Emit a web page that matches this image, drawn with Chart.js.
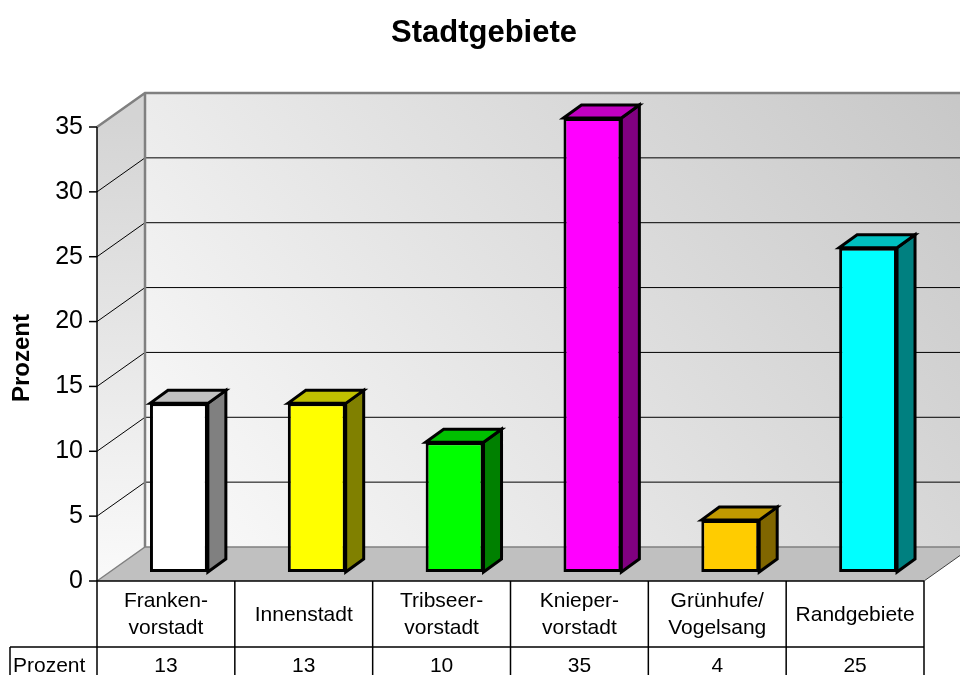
<!DOCTYPE html>
<html>
<head>
<meta charset="utf-8">
<script src="https://cdn.jsdelivr.net/npm/chart.js@4/dist/chart.umd.min.js"></script>
<style>
  body { margin: 0; background: #fff; }
  canvas { display: block; }
</style>
</head>
<body>
<canvas id="myChart" width="960" height="675"></canvas>
<script>
// data
var categories = [['Franken-', 'vorstadt'], 'Innenstadt', ['Tribseer-', 'vorstadt'], ['Knieper-', 'vorstadt'], ['Grünhufe/', 'Vogelsang'], 'Randgebiete'];
var prozent = [13, 13, 10, 35, 4, 25];
var yTicks = [0, 5, 10, 15, 20, 25, 30, 35];
var seriesName = 'Prozent';

// colours per bar: front, side, top
var frontColors = ['#ffffff', '#ffff00', '#00ff00', '#ff00ff', '#ffcc00', '#00ffff'];
var sideColors = ['#808080', '#808000', '#008000', '#800080', '#806600', '#008080'];
var topColors = ['#c0c0c0', '#c0c000', '#00c000', '#c000c0', '#c09900', '#00c0c0'];

var FONT = '"Liberation Sans", Arial, sans-serif';
// offsets from the bar plane
var FX = -13, FY = 9;    // front plane
var BX = 35, BY = -25;   // back wall
var DX = 18, DY = -13;   // bar depth

var scene = {
  id: 'scene',
  beforeDatasetsDraw: function (chart) {
    var c = chart.ctx, x = chart.scales.x, y = chart.scales.y;
    var L = x.left, R = x.right;
    var y0 = y.getPixelForValue(0), yTop = y.getPixelForValue(35);
    c.save();

    // back wall
    var g = c.createLinearGradient(L + BX, y0 + BY, R + BX, yTop + BY - 200);
    g.addColorStop(0, '#fbfbfb');
    g.addColorStop(1, '#c0c0c0');
    c.fillStyle = g;
    c.fillRect(L + BX, yTop + BY, R - L + 10, y0 - yTop);

    // left wall
    var g2 = c.createLinearGradient(0, yTop, 0, y0 + FY);
    g2.addColorStop(0, '#d4d4d4');
    g2.addColorStop(1, '#fafafa');
    c.fillStyle = g2;
    c.beginPath();
    c.moveTo(L + FX, y0 + FY);
    c.lineTo(L + FX, yTop + FY);
    c.lineTo(L + BX, yTop + BY);
    c.lineTo(L + BX, y0 + BY);
    c.closePath();
    c.fill();

    // floor
    c.fillStyle = '#c0c0c0';
    c.beginPath();
    c.moveTo(L + FX, y0 + FY);
    c.lineTo(R + FX, y0 + FY);
    c.lineTo(R + BX, y0 + BY);
    c.lineTo(L + BX, y0 + BY);
    c.closePath();
    c.fill();
    c.strokeStyle = '#404040';
    c.lineWidth = 1;
    c.beginPath();
    c.moveTo(R + FX, y0 + FY);
    c.lineTo(R + BX, y0 + BY);
    c.stroke();

    // gridlines
    c.strokeStyle = '#000';
    c.lineWidth = 1;
    yTicks.forEach(function (v) {
      if (v === 0 || v === 35) return;
      var p = y.getPixelForValue(v);
      c.beginPath();
      c.moveTo(L + FX, p + FY);
      c.lineTo(L + BX, p + BY);
      c.lineTo(R + BX + 20, p + BY);
      c.stroke();
    });

    // wall edges
    c.strokeStyle = '#808080';
    c.lineWidth = 2.5;
    c.beginPath();
    c.moveTo(L + FX, yTop + FY);
    c.lineTo(L + BX, yTop + BY);
    c.lineTo(R + BX + 20, yTop + BY);
    c.moveTo(L + BX, yTop + BY);
    c.lineTo(L + BX, y0 + BY);
    c.stroke();
    c.lineWidth = 1.5;
    c.beginPath();
    c.moveTo(L + FX, y0 + FY);
    c.lineTo(L + BX, y0 + BY);
    c.lineTo(R + BX, y0 + BY);
    c.stroke();

    // y axis line, ticks, labels
    c.strokeStyle = '#000';
    c.lineWidth = 1.5;
    c.beginPath();
    c.moveTo(L + FX, yTop + FY);
    c.lineTo(L + FX, y0 + FY);
    c.stroke();
    c.fillStyle = '#000';
    c.font = '25px ' + FONT;
    c.textAlign = 'right';
    c.textBaseline = 'middle';
    yTicks.forEach(function (v) {
      var p = y.getPixelForValue(v) + FY;
      c.beginPath();
      c.moveTo(L + FX - 8, p);
      c.lineTo(L + FX, p);
      c.stroke();
      c.fillText(String(v), L + FX - 14, p);
    });

    // axis title
    c.save();
    c.translate(22, (yTop + y0) / 2 + FY + 4);
    c.rotate(-Math.PI / 2);
    c.textAlign = 'center';
    c.font = 'bold 24px ' + FONT;
    c.fillText('Prozent', 0, 0);
    c.restore();

    // chart title
    c.textAlign = 'center';
    c.font = 'bold 31px ' + FONT;
    c.fillText('Stadtgebiete', 484, 33);

    // data table
    var tTop = y0 + FY, tMid = tTop + 66, tBot = 700;
    var cw = (R - L) / categories.length;
    c.lineWidth = 1.5;
    c.beginPath();
    c.moveTo(L + FX, tTop);
    c.lineTo(R + FX, tTop);
    c.moveTo(10, tMid);
    c.lineTo(R + FX, tMid);
    c.moveTo(10, tMid);
    c.lineTo(10, tBot);
    for (var i = 0; i <= categories.length; i++) {
      var xx = L + FX + i * cw;
      c.moveTo(xx, tTop);
      c.lineTo(xx, tBot);
    }
    c.stroke();
    c.font = '21px ' + FONT;
    categories.forEach(function (cat, i) {
      var cx = L + FX + (i + 0.5) * cw;
      var lines = Array.isArray(cat) ? cat : [cat];
      var cy = (tTop + tMid) / 2 + 1;
      lines.forEach(function (t, k) {
        c.fillText(t, cx, cy + (k - (lines.length - 1) / 2) * 27);
      });
      c.fillText(String(prozent[i]), cx, tMid + 19);
    });
    c.textAlign = 'left';
    c.fillText(seriesName, 13, tMid + 19);

    c.restore();
  },
  afterDatasetsDraw: function (chart) {
    var c = chart.ctx;
    var meta = chart.getDatasetMeta(0);
    c.save();
    c.strokeStyle = '#000';
    c.lineWidth = 3;
    c.lineJoin = 'miter';
    meta.data.forEach(function (bar, i) {
      var x1 = bar.x - bar.width / 2, x2 = bar.x + bar.width / 2;
      var yt = bar.y, yb = bar.base;
      // side
      c.fillStyle = sideColors[i];
      c.beginPath();
      c.moveTo(x2, yt);
      c.lineTo(x2 + DX, yt + DY);
      c.lineTo(x2 + DX, yb + DY);
      c.lineTo(x2, yb);
      c.closePath();
      c.fill();
      c.stroke();
      // top
      c.fillStyle = topColors[i];
      c.beginPath();
      c.moveTo(x1, yt);
      c.lineTo(x1 + DX, yt + DY);
      c.lineTo(x2 + DX, yt + DY);
      c.lineTo(x2, yt);
      c.closePath();
      c.fill();
      c.stroke();
    });
    c.restore();
  }
};

var myChart = new Chart(document.getElementById('myChart'), {
  type: 'bar',
  data: {
    labels: categories,
    datasets: [{
      label: seriesName,
      data: prozent,
      backgroundColor: frontColors,
      borderColor: '#000',
      borderWidth: 3,
      borderSkipped: false,
      categoryPercentage: 1,
      barPercentage: 0.42
    }]
  },
  options: {
    responsive: false,
    animation: false,
    devicePixelRatio: 1,
    layout: { padding: { left: 110, right: 23, top: 118, bottom: 103 } },
    plugins: { legend: { display: false }, tooltip: { enabled: false }, title: { display: false } },
    scales: {
      x: { display: false },
      y: { display: false, min: 0, max: 35 }
    }
  },
  plugins: [scene]
});
</script>
</body>
</html>
